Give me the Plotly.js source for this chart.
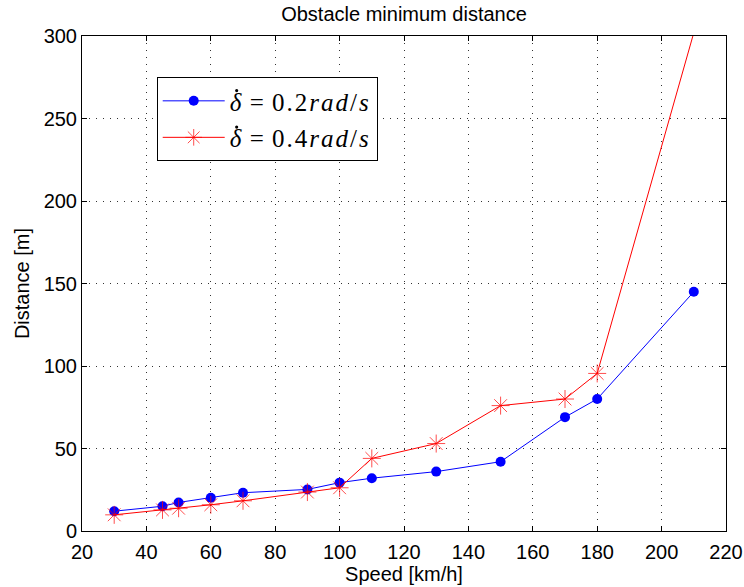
<!DOCTYPE html>
<html>
<head>
<meta charset="utf-8">
<script src="https://cdn.plot.ly/plotly-3.0.1.min.js"></script>
<style>html,body{margin:0;padding:0;background:#fff;}#chart{width:744px;height:587px;}</style>
</head>
<body>
<div id="chart"></div>
<script>
const speed = [30, 45, 50, 60, 70, 90, 100, 110, 130, 150, 170, 180, 210];
const dist02 = [12, 15, 17.3, 20.2, 23.2, 25.2, 29.3, 32, 36, 42, 69, 80, 145];
const dist04 = [9.8, 12.8, 13.8, 15.9, 18.3, 23.6, 26.2, 44, 53, 76, 80, 95.5, 302];
const SP = '\u2004';
const name02 = '<i>δ</i>' + SP + '=' + SP + '<span style="letter-spacing:2px">0.2<i>rad</i>/<i>s</i></span>';
const name04 = '<i>δ</i>' + SP + '=' + SP + '<span style="letter-spacing:2px">0.4<i>rad</i>/<i>s</i></span>';
const xTicks = [20, 40, 60, 80, 100, 120, 140, 160, 180, 200, 220];
const yTicks = [0, 50, 100, 150, 200, 250, 300];
const yMax = 300;

const traces = [
  {x: speed, y: dist02, name: name02, legendgroup: 'a', mode: 'lines+markers', type: 'scatter',
   line: {color: '#0000ff', width: 1}, marker: {color: '#0000ff', symbol: 'circle', size: 10},
   cliponaxis: true},
  {x: speed, y: dist04, name: name04, legendgroup: 'b', mode: 'lines+markers', type: 'scatter',
   line: {color: '#ff0000', width: 1},
   marker: {color: '#ff0000', symbol: 'asterisk-open', size: dist04.map(v => v > yMax ? 0 : 15), line: {color: '#ff0000', width: 1}},
   cliponaxis: true}
];

const axisCommon = {
  showline: true, linecolor: '#000', linewidth: 1, mirror: 'ticks',
  ticks: 'inside', ticklen: 5, tickcolor: '#000', tickwidth: 1,
  showgrid: true, gridcolor: '#333', griddash: '1px,6px', gridwidth: 1,
  zeroline: false, tickfont: {family: 'Liberation Sans, Arial, sans-serif', size: 20, color: '#000'},
  fixedrange: true
};

const legendFontSize = 25;
const layout = {
  width: 744, height: 587,
  margin: {l: 82, r: 18, t: 36, b: 56},
  paper_bgcolor: '#fff', plot_bgcolor: '#fff',
  font: {family: 'Liberation Sans, Arial, sans-serif', color: '#000'},
  title: {text: 'Obstacle minimum distance', font: {size: 20, color: '#000'}, x: 0.5, xref: 'paper', y: 0.976, yanchor: 'middle'},
  xaxis: Object.assign({}, axisCommon, {range: [20, 220], tickvals: xTicks, ticktext: xTicks.map(String),
    ticklabelstandoff: 3,
    title: {text: 'Speed [km/h]', font: {size: 20, color: '#000'}, standoff: 0}}),
  yaxis: Object.assign({}, axisCommon, {range: [0, yMax], tickvals: yTicks, ticktext: yTicks.map(String),
    title: {text: 'Distance [m]', font: {size: 20, color: '#000'}, standoff: 8}}),
  showlegend: true,
  legend: {x: 0.116, y: 0.917, xanchor: 'left', yanchor: 'top', bgcolor: 'rgba(0,0,0,0)',
    bordercolor: '#000', borderwidth: 1, itemwidth: 62,
    font: {family: 'Liberation Serif, DejaVu Serif, serif', size: legendFontSize, color: '#000'},
    tracegroupgap: 1}
};

Plotly.newPlot('chart', traces, layout, {displayModeBar: false, staticPlot: true}).then(gd => {
  const s = gd._fullLayout._size;
  const toPaper = (X, Y) => [(X - s.l) / s.w, 1 - (Y - s.t) / s.h];
  const shapes = [];
  // white legend background (drawn as a shape so the derivative dots can sit on top)
  const bg = gd.querySelector('.legend rect.bg');
  if (bg) {
    const r = bg.getBoundingClientRect();
    const a = toPaper(r.left, r.top), b = toPaper(r.right, r.bottom);
    shapes.push({type: 'rect', xref: 'paper', yref: 'paper', x0: a[0], x1: b[0], y0: b[1], y1: a[1],
      fillcolor: '#fff', line: {width: 0}, layer: 'above'});
  }
  // dot accent over each delta (time derivative notation)
  gd.querySelectorAll('.legend text.legendtext').forEach(t => {
    let X, Y;
    try {
      const ext = t.getExtentOfChar(0);
      const start = t.getStartPositionOfChar(0);
      const p = new DOMPoint(ext.x + ext.width * 0.6, start.y - legendFontSize * 0.8).matrixTransform(t.getCTM());
      X = p.x; Y = p.y;
    } catch (e) {
      const r = t.getBoundingClientRect();
      X = r.left + 7; Y = r.top + 3;
    }
    const q = toPaper(X, Y);
    shapes.push({type: 'circle', xref: 'paper', yref: 'paper', xsizemode: 'pixel', ysizemode: 'pixel',
      xanchor: q[0], yanchor: q[1], x0: -1.6, x1: 1.6, y0: -1.6, y1: 1.6,
      fillcolor: '#000', line: {width: 0}, layer: 'above'});
  });
  return Plotly.relayout(gd, {shapes: shapes});
});
</script>
</body>
</html>
